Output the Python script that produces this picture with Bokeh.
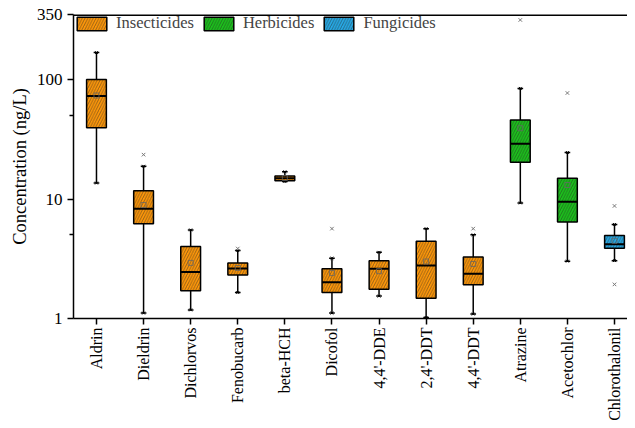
import math
import numpy as np
from bokeh.plotting import figure
from bokeh.models import (ColumnDataSource, FixedTicker, Legend, LegendItem)
from bokeh.embed import file_html
from bokeh.resources import INLINE

# ---------------- data ----------------
compounds = ["Aldrin", "Dieldrin", "Dichlorvos", "Fenobucarb", "beta-HCH", "Dicofol",
             "4,4'-DDE", "2,4'-DDT", "4,4'-DDT", "Atrazine", "Acetochlor", "Chlorothalonil"]
groups = ["Insecticides"] * 9 + ["Herbicides"] * 2 + ["Fungicides"]
whisker_low = [13.6, 1.11, 1.18, 1.65, 14.0, 1.11, 1.54, 1.02, 1.09, 9.27, 3.02, 3.05]
q1 = [39.4, 6.2, 1.71, 2.31, 14.2, 1.65, 1.76, 1.48, 1.92, 20.3, 6.42, 3.88]
median = [72.8, 8.27, 2.45, 2.62, 14.9, 2.01, 2.61, 2.78, 2.37, 29.0, 9.5, 4.19]
q3 = [100.0, 11.7, 4.01, 2.92, 15.6, 2.61, 3.05, 4.44, 3.27, 45.8, 14.9, 4.95]
whisker_high = [168.0, 18.8, 5.51, 3.70, 16.9, 3.19, 3.58, 5.65, 5.01, 84.3, 24.5, 6.13]
mean = [73.5, 8.9, 2.92, 2.65, 15.0, 2.40, 2.49, 3.0, 2.86, 39.1, 13.1, 4.47]
outlier_compound = ["Dieldrin", "Fenobucarb", "Dicofol", "4,4'-DDT", "Atrazine",
                    "Acetochlor", "Chlorothalonil", "Chlorothalonil"]
outlier_value = [23.5, 3.85, 5.65, 5.65, 315.0, 77.1, 8.75, 1.93]

group_names = ["Insecticides", "Herbicides", "Fungicides"]
group_colors = {"Insecticides": "#FF980A", "Herbicides": "#1CC21C", "Fungicides": "#27AAE6"}
y_ticks = [1, 10, 100, 350]
y_minor = [5, 50]

# ---------------- figure ----------------
FONT = "Liberation Serif"
BOX_W = 0.42
CAP_W = 0.12
FH = 304
X0, X1 = 0.512, 12.276

xpos = np.arange(1, len(compounds) + 1, dtype=float)

p = figure(frame_width=554, frame_height=FH, y_axis_type="log",
           x_range=(X0, X1), y_range=(y_ticks[0], y_ticks[-1]),
           output_backend="svg", toolbar_location=None,
           min_border_left=73, min_border_right=0, min_border_top=14, min_border_bottom=102)
p.xgrid.grid_line_color = None
p.ygrid.grid_line_color = None
p.outline_line_color = None
p.background_fill_color = "white"
p.border_fill_color = "white"

src = ColumnDataSource(dict(
    x=xpos, name=compounds, group=groups, lo=whisker_low, q1=q1, med=median,
    q3=q3, hi=whisker_high, mean=mean,
    xl=xpos - BOX_W / 2, xr=xpos + BOX_W / 2,
    cl=xpos - CAP_W / 2, cr=xpos + CAP_W / 2,
))

# top frame line (half of a 3px line is clipped by the frame -> 1.5px)
p.line(x=[X0, X1], y=[y_ticks[-1], y_ticks[-1]], line_color="black", line_width=3)

# whiskers
p.segment(x0="x", y0="q3", x1="x", y1="hi", source=src, line_color="black", line_width=1.5)
p.segment(x0="x", y0="q1", x1="x", y1="lo", source=src, line_color="black", line_width=1.5)
p.segment(x0="cl", y0="hi", x1="cr", y1="hi", source=src, line_color="black", line_width=1.5)
p.segment(x0="cl", y0="lo", x1="cr", y1="lo", source=src, line_color="black", line_width=1.5)
p.scatter(x="x", y="hi", source=src, marker="x", size=4, line_color="black", line_width=1)
p.scatter(x="x", y="lo", source=src, marker="x", size=4, line_color="black", line_width=1)

# boxes, one renderer per group for the legend
renderers = {}
for g in group_names:
    idx = [i for i, gg in enumerate(groups) if gg == g]
    s = ColumnDataSource(dict(x=xpos[idx], q1=[q1[i] for i in idx], q3=[q3[i] for i in idx]))
    renderers[g] = p.vbar(x="x", bottom="q1", top="q3", width=BOX_W, source=s,
                          fill_color=group_colors[g], line_color="black", line_width=1.5,
                          hatch_pattern="/", hatch_color="#222222", hatch_alpha=0.8,
                          hatch_scale=5.5, hatch_weight=0.6)

# median and mean
p.segment(x0="xl", y0="med", x1="xr", y1="med", source=src, line_color="black", line_width=2)
p.scatter(x="x", y="mean", source=src, marker="square", size=5, fill_color=None,
          line_color="#666666", line_width=0.8)

# outliers
out_x = [compounds.index(c) + 1 for c in outlier_compound]
p.scatter(x=out_x, y=outlier_value, marker="x", size=5, line_color="#777777", line_width=1)

# ---------------- axes ----------------
xa = p.xaxis[0]
xa.ticker = FixedTicker(ticks=list(xpos))
xa.major_label_overrides = {float(i + 1): c for i, c in enumerate(compounds)}
xa.major_label_orientation = math.pi / 2
xa.major_label_text_font = FONT
xa.major_label_text_font_size = "16px"
xa.major_label_text_color = "black"
xa.major_tick_out = 6
xa.major_tick_in = 0
xa.minor_tick_line_color = None
xa.axis_line_width = 1.5
xa.major_tick_line_width = 1.5
xa.major_label_standoff = 3

ya = p.yaxis[0]
ya.ticker = FixedTicker(ticks=y_ticks, minor_ticks=y_minor)
ya.major_label_overrides = {t: str(t) for t in y_ticks}
ya.major_label_text_font = FONT
ya.major_label_text_font_size = "17px"
ya.major_label_text_color = "black"
ya.major_tick_out = 6
ya.major_tick_in = 0
ya.minor_tick_out = 4
ya.minor_tick_in = 0
ya.axis_line_width = 1.5
ya.major_tick_line_width = 1.5
ya.minor_tick_line_width = 1.5
ya.major_label_standoff = 5
ya.axis_label = "Concentration (ng/L)"
ya.axis_label_text_font = FONT
ya.axis_label_text_font_style = "normal"
ya.axis_label_text_font_size = "18.5px"
ya.axis_label_text_color = "black"
ya.axis_label_standoff = 4

# ---------------- legend ----------------
legend = Legend(items=[LegendItem(label=g, renderers=[renderers[g]]) for g in group_names],
                orientation="horizontal", location=(0, FH - 19),
                glyph_width=37, glyph_height=17, label_standoff=6, spacing=6,
                label_height=17,
                label_text_font=FONT, label_text_font_size="16.5px",
                margin=0, padding=0, border_line_color=None, background_fill_alpha=0)
p.add_layout(legend, "center")

open("out.html", "w").write(file_html(p, INLINE))
